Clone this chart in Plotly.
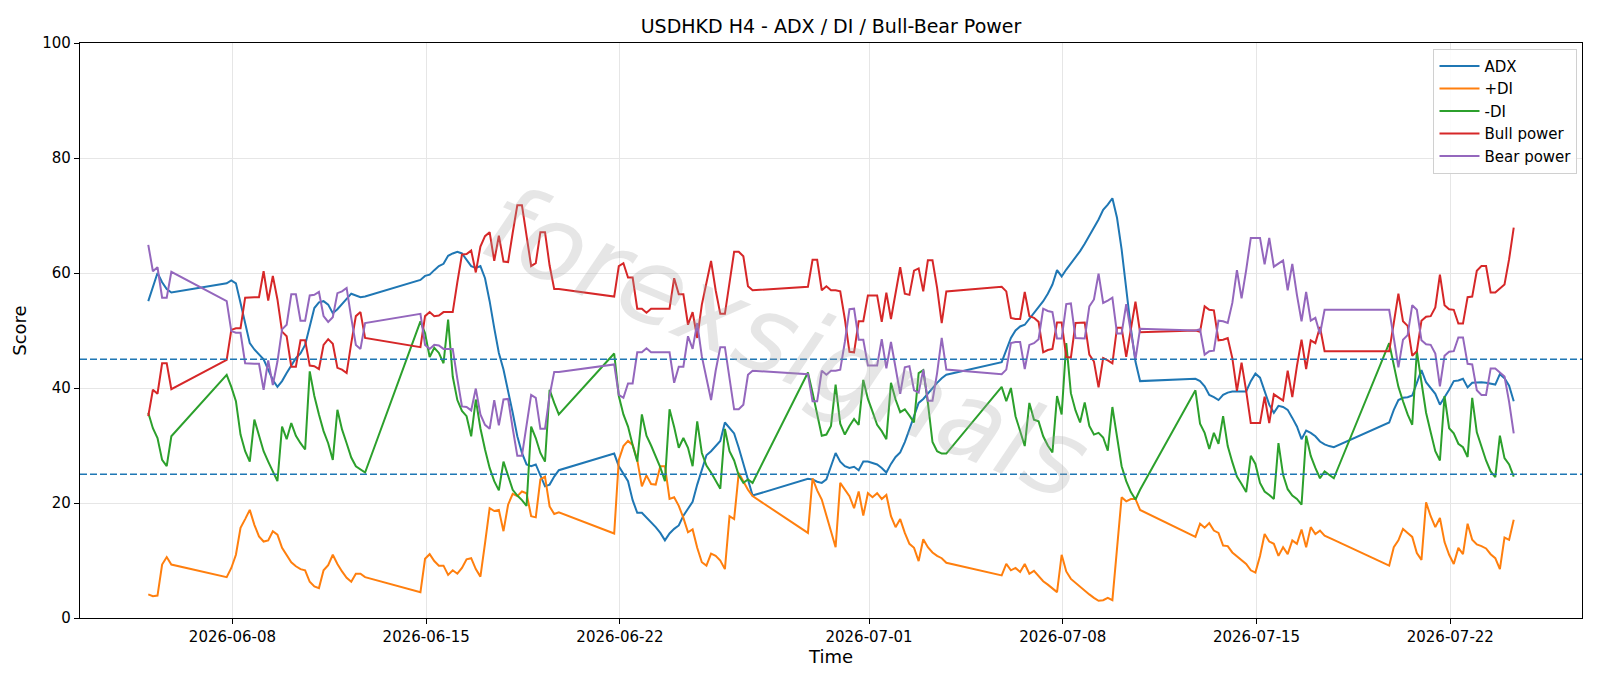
import pandas as pd
import plotly.graph_objects as go

# Trading sessions (start of each block of consecutive H4 bars, number of bars)
sessions = [("2026-06-04 23:00", 6), ("2026-06-07 19:00", 31), ("2026-06-14 19:00", 31),
            ("2026-06-21 19:00", 31), ("2026-06-28 19:00", 31), ("2026-07-05 19:00", 31),
            ("2026-07-12 19:00", 31), ("2026-07-19 19:00", 28)]

adx = [55.1, 57.5, 60.0, 58.4, 57.2, 56.6,
       58.2, 58.7, 58.2, 54.8, 51.0, 47.8, 46.7, 45.8, 45.0, 43.2, 41.4, 40.2, 41.2, 42.6, 43.8, 45.2, 46.0, 47.5, 50.7, 53.9, 54.9, 55.1, 54.5, 53.0, 53.7, 54.7, 55.5, 56.4, 56.1, 55.8, 55.9,
       58.8, 59.5, 59.7, 60.5, 61.2, 61.6, 63.0, 63.4, 63.7, 63.4, 62.4, 61.2, 60.9, 61.2, 59.1, 55.1, 50.4, 46.1, 43.2, 39.7, 35.7, 31.6, 28.7, 26.7, 26.4, 26.7, 24.9, 22.9, 23.2, 24.6, 25.7,
       28.6, 26.4, 25.0, 23.8, 20.5, 18.3, 18.3, 17.5, 16.6, 15.8, 14.8, 13.5, 14.7, 15.5, 16.1, 17.8, 19.0, 20.2, 23.2, 25.8, 28.3, 29.0, 30.0, 30.8, 34.0, 33.0, 32.1, 29.6, 26.7, 24.2, 21.3,
       24.2, 24.1, 23.7, 23.5, 24.1, 26.4, 28.7, 27.2, 26.4, 26.1, 26.3, 25.7, 27.2, 27.2, 27.0, 26.7, 26.1, 25.3, 26.8, 28.0, 28.8, 30.6, 32.8, 35.1, 37.4, 38.1, 39.1, 40.0, 40.9, 41.7, 42.3,
       44.5, 46.7, 48.7, 50.0, 50.7, 51.0, 52.0, 52.9, 53.9, 55.1, 56.4, 58.0, 60.5, 59.4, 60.6, 61.6, 62.8, 63.8, 65.1, 66.5, 67.8, 69.3, 71.0, 71.9, 73.0, 69.6, 64.1, 57.1, 50.4, 44.6, 41.2,
       41.6, 41.2, 40.3, 38.8, 38.4, 37.9, 38.8, 39.2, 39.4, 39.4, 39.4, 39.4, 41.2, 42.5, 41.8, 39.6, 37.1, 35.7, 36.9, 36.7, 36.2, 34.8, 33.3, 31.1, 32.6, 32.2, 31.6, 30.7, 30.2, 29.9, 29.7,
       34.0, 36.2, 37.9, 38.3, 38.4, 38.7, 40.9, 43.1, 41.0, 40.0, 39.0, 37.1, 38.3, 39.7, 41.2, 41.3, 41.6, 40.1, 40.9, 41.0, 41.0, 40.9, 40.7, 40.6, 42.4, 41.7, 40.4, 37.7]

plus_di = [4.1, 3.8, 3.9, 9.3, 10.6, 9.3,
           7.1, 8.7, 11.0, 15.7, 17.2, 18.8, 16.2, 14.2, 13.3, 13.5, 15.1, 14.5, 12.2, 11.0, 9.7, 9.0, 8.5, 8.3, 6.3, 5.5, 5.2, 8.3, 9.2, 11.0, 9.4, 8.1, 7.0, 6.3, 7.7, 7.7, 7.1,
           4.5, 10.3, 11.1, 9.9, 9.1, 9.1, 7.5, 8.3, 7.7, 8.7, 10.2, 10.4, 8.5, 7.2, 13.0, 19.1, 18.6, 18.8, 15.1, 19.7, 21.6, 21.2, 22.0, 21.7, 17.7, 17.5, 24.1, 24.6, 19.4, 18.1, 18.4,
           14.7, 27.5, 29.9, 30.8, 30.1, 27.5, 22.9, 24.8, 23.3, 23.2, 26.4, 26.4, 20.7, 21.0, 19.5, 17.4, 14.9, 15.4, 12.2, 9.7, 9.1, 11.2, 10.8, 10.0, 8.5, 17.7, 17.2, 25.2, 23.8, 22.3, 21.2,
           14.8, 24.3, 22.2, 20.6, 17.8, 14.8, 12.3, 23.5, 22.4, 21.2, 19.1, 22.0, 17.8, 21.7, 21.0, 21.7, 20.7, 21.4, 17.7, 15.8, 17.2, 14.8, 12.9, 12.2, 9.9, 13.7, 12.3, 11.4, 10.8, 10.4, 9.6,
           7.4, 9.4, 8.3, 8.7, 8.0, 9.4, 7.7, 8.2, 7.2, 6.4, 5.8, 5.2, 4.5, 11.0, 8.1, 6.8, 6.1, 5.5, 4.8, 4.1, 3.5, 3.0, 3.1, 3.5, 3.1, 12.0, 21.0, 20.3, 20.7, 20.7, 18.8,
           14.1, 16.4, 15.7, 16.5, 15.2, 14.8, 12.6, 12.5, 11.4, 10.7, 10.0, 9.4, 8.3, 7.9, 10.8, 14.6, 13.3, 12.9, 10.8, 12.3, 11.1, 13.5, 12.9, 15.4, 12.3, 15.8, 14.6, 15.2, 14.3, 13.9, 13.6,
           9.1, 12.3, 13.5, 15.5, 14.8, 14.1, 11.3, 10.1, 20.1, 17.7, 15.8, 17.4, 13.2, 11.0, 9.4, 12.2, 11.1, 16.4, 13.6, 12.8, 12.5, 12.1, 11.1, 10.4, 8.5, 14.0, 13.6, 17.1]

minus_di = [35.7, 33.0, 31.3, 27.5, 26.4, 31.6,
            42.3, 40.2, 37.7, 31.9, 29.0, 27.2, 34.5, 31.6, 29.0, 27.2, 25.5, 23.8, 33.3, 31.1, 33.9, 31.7, 30.4, 29.3, 42.9, 38.6, 35.4, 32.5, 30.4, 27.5, 36.2, 32.8, 30.4, 27.9, 26.4, 25.8, 25.3,
            51.6, 49.5, 45.4, 47.0, 46.1, 44.3, 51.9, 42.0, 37.9, 36.0, 35.1, 31.6, 38.0, 33.0, 29.3, 26.1, 23.8, 22.2, 27.2, 24.6, 22.3, 21.3, 20.5, 19.5, 33.3, 31.3, 28.7, 27.2, 39.7, 37.4, 35.4,
            46.0, 38.6, 35.4, 33.3, 30.1, 27.2, 35.4, 31.7, 30.0, 28.2, 26.2, 23.8, 36.3, 33.2, 29.6, 31.3, 29.6, 26.4, 34.2, 28.7, 26.5, 25.3, 23.9, 22.5, 32.9, 29.0, 27.4, 24.8, 23.5, 24.1, 23.5,
            42.7, 39.2, 35.4, 31.7, 31.9, 33.4, 40.6, 33.8, 31.9, 33.4, 34.6, 33.6, 41.4, 38.1, 35.9, 33.6, 32.5, 31.1, 40.9, 38.0, 35.8, 36.3, 35.2, 34.0, 42.6, 43.1, 37.4, 30.6, 29.0, 28.6, 28.6,
            40.2, 37.7, 40.0, 35.1, 32.5, 29.9, 37.4, 34.5, 34.2, 31.6, 30.0, 28.8, 38.6, 35.4, 47.8, 39.1, 36.1, 34.0, 37.5, 33.4, 31.9, 32.2, 31.4, 29.1, 36.7, 31.6, 26.4, 23.8, 21.9, 20.6, 22.3,
            39.6, 33.8, 32.2, 29.4, 32.2, 30.3, 35.1, 29.9, 27.1, 24.6, 23.3, 21.9, 28.2, 26.8, 23.5, 22.0, 21.4, 20.7, 30.4, 24.9, 22.4, 21.3, 20.7, 19.7, 31.7, 28.2, 26.1, 24.3, 25.5, 24.9, 24.3,
            47.8, 43.9, 40.2, 37.7, 35.4, 33.6, 46.4, 41.0, 35.7, 32.3, 29.0, 27.4, 38.6, 33.0, 32.1, 30.3, 29.7, 28.0, 38.3, 32.3, 29.7, 27.4, 25.5, 24.5, 31.7, 27.8, 26.7, 24.6]

bull_power = [35.1, 39.7, 39.0, 44.3, 44.3, 39.8,
              44.9, 50.1, 50.4, 50.4, 55.7, 55.8, 55.8, 55.8, 60.3, 55.2, 59.5, 55.4, 49.8, 49.0, 43.7, 43.7, 48.3, 48.3, 43.9, 43.8, 43.3, 47.5, 48.5, 47.7, 43.5, 43.2, 42.6, 47.8, 52.5, 53.2, 48.7,
              47.1, 52.5, 53.2, 52.5, 52.6, 53.2, 53.2, 53.2, 58.4, 63.2, 63.3, 63.9, 60.1, 64.6, 66.4, 67.1, 62.1, 66.5, 62.0, 61.9, 67.0, 71.8, 71.8, 66.2, 61.2, 61.7, 67.1, 67.1, 61.3, 57.2, 57.2,
              55.9, 61.2, 61.7, 59.2, 59.2, 53.8, 53.8, 53.1, 53.8, 53.8, 53.8, 53.8, 53.8, 59.1, 56.3, 56.3, 51.0, 53.2, 48.7, 54.5, 58.5, 62.1, 57.0, 52.9, 52.9, 58.3, 63.7, 63.7, 62.9, 57.7, 57.0,
              57.6, 62.3, 62.3, 57.0, 57.7, 57.0, 57.0, 56.8, 52.0, 46.3, 46.2, 51.6, 51.6, 56.1, 56.1, 56.1, 51.5, 56.6, 52.0, 56.8, 61.0, 56.4, 56.2, 60.4, 60.8, 56.8, 62.2, 62.2, 57.4, 51.3, 56.8,
              57.6, 56.8, 52.2, 52.0, 52.0, 56.7, 52.5, 52.2, 51.5, 46.2, 46.6, 46.8, 51.4, 51.4, 45.4, 45.3, 51.3, 51.4, 51.4, 45.8, 44.6, 40.1, 45.2, 44.8, 44.3, 50.5, 50.5, 45.4, 50.5, 55.0, 49.7,
              50.0, 49.8, 54.2, 53.6, 53.5, 48.3, 48.4, 48.7, 45.2, 39.5, 44.4, 39.5, 33.9, 33.9, 33.9, 38.5, 33.9, 38.9, 38.3, 37.8, 43.0, 38.4, 43.8, 48.4, 43.3, 48.3, 47.8, 50.6, 46.4, 46.4, 46.4,
              46.4, 51.3, 56.4, 51.6, 50.8, 45.6, 46.4, 51.7, 52.4, 52.5, 54.0, 59.7, 54.4, 53.7, 53.6, 51.2, 51.2, 55.8, 55.9, 60.4, 61.2, 61.2, 56.6, 56.6, 57.3, 58.0, 62.4, 67.9]

bear_power = [64.9, 60.3, 61.0, 55.7, 55.7, 60.2,
              55.1, 49.9, 49.6, 49.6, 44.3, 44.2, 44.2, 44.2, 39.7, 44.8, 40.5, 44.6, 50.2, 51.0, 56.3, 56.3, 51.7, 51.7, 56.1, 56.2, 56.7, 52.5, 51.5, 52.3, 56.5, 56.8, 57.4, 52.2, 47.5, 46.8, 51.3,
              52.9, 47.5, 46.8, 47.5, 47.4, 46.8, 46.8, 46.8, 41.6, 36.8, 36.7, 36.1, 39.9, 35.4, 33.6, 32.9, 37.9, 33.5, 38.0, 38.1, 33.0, 28.2, 28.2, 33.8, 38.8, 38.3, 32.9, 32.9, 38.7, 42.8, 42.8,
              44.1, 38.8, 38.3, 40.8, 40.8, 46.2, 46.2, 46.9, 46.2, 46.2, 46.2, 46.2, 46.2, 40.9, 43.7, 43.7, 49.0, 46.8, 51.3, 45.5, 41.5, 37.9, 43.0, 47.1, 47.1, 41.7, 36.3, 36.3, 37.1, 42.3, 43.0,
              42.4, 37.7, 37.7, 43.0, 42.3, 43.0, 43.0, 43.2, 48.0, 53.7, 53.8, 48.4, 48.4, 43.9, 43.9, 43.9, 48.5, 43.4, 48.0, 43.2, 39.0, 43.6, 43.8, 39.6, 39.2, 43.2, 37.8, 37.8, 42.6, 48.7, 43.2,
              42.4, 43.2, 47.8, 48.0, 48.0, 43.3, 47.5, 47.8, 48.5, 53.8, 53.4, 53.2, 48.6, 48.6, 54.6, 54.7, 48.7, 48.6, 48.6, 54.2, 55.4, 59.9, 54.8, 55.2, 55.7, 49.5, 49.5, 54.6, 49.5, 45.0, 50.3,
              50.0, 50.2, 45.8, 46.4, 46.5, 51.7, 51.6, 51.3, 54.8, 60.5, 55.6, 60.5, 66.1, 66.1, 66.1, 61.5, 66.1, 61.1, 61.7, 62.2, 57.0, 61.6, 56.2, 51.6, 56.7, 51.7, 52.2, 49.4, 53.6, 53.6, 53.6,
              53.6, 48.7, 43.6, 48.4, 49.2, 54.4, 53.6, 48.3, 47.6, 47.5, 46.0, 40.3, 45.6, 46.3, 46.4, 48.8, 48.8, 44.2, 44.1, 39.6, 38.8, 38.8, 43.4, 43.4, 42.7, 42.0, 37.6, 32.1]

tick_dates = ["2026-06-08", "2026-06-15", "2026-06-22", "2026-07-01", "2026-07-08", "2026-07-15", "2026-07-22"]
y_ticks = [0, 20, 40, 60, 80, 100]
levels = [25, 45]

times = []
for start, n in sessions:
    times.extend(pd.date_range(start, periods=n, freq="4h"))

series = [("ADX", adx, "#1f77b4"), ("+DI", plus_di, "#ff7f0e"), ("-DI", minus_di, "#2ca02c"),
          ("Bull power", bull_power, "#d62728"), ("Bear power", bear_power, "#9467bd")]

fig = go.Figure()
for name, vals, col in series:
    fig.add_trace(go.Scatter(x=times, y=vals, mode="lines", name=name,
                             line=dict(color=col, width=2.0)))

for lv in levels:
    fig.add_shape(type="line", xref="paper", yref="y", x0=0, x1=1, y0=lv, y1=lv,
                  line=dict(color="#1f77b4", width=1.5, dash="7px,3px"), layer="above")

t0, t1 = times[0], times[-1]
pad = (t1 - t0) * 0.05

font = "DejaVu Sans, Arial, sans-serif"
fig.add_annotation(text="<i>forexsignals</i>", xref="paper", yref="paper", x=0.47, y=0.48,
                   showarrow=False, textangle=23,
                   font=dict(family=font, size=106, color="rgba(165,165,165,0.28)"))

fig.update_layout(
    width=1600, height=686,
    margin=dict(l=80, r=18, t=43, b=68),
    paper_bgcolor="white", plot_bgcolor="white",
    font=dict(family=font, size=15, color="black"),
    title=dict(text="USDHKD H4 - ADX / DI / Bull-Bear Power", x=0.5, xref="paper", xanchor="center",
               y=1 - 26 / 686, yanchor="middle", font=dict(size=19)),
    legend=dict(x=0.997, y=0.99, xanchor="right", yanchor="top", bgcolor="rgba(255,255,255,0.85)",
                bordercolor="#d0d0d0", borderwidth=1, font=dict(size=15), itemwidth=40,
                tracegroupgap=0),
    showlegend=True,
)
fig.update_xaxes(range=[t0 - pad, t1 + pad], tickvals=pd.to_datetime(tick_dates), ticktext=tick_dates,
                 showgrid=True, gridcolor="#e6e6e6", gridwidth=1, zeroline=False,
                 showline=True, linecolor="black", linewidth=1.2, mirror=True,
                 ticks="outside", ticklen=5, tickwidth=1, tickcolor="black",
                 title=dict(text="Time", standoff=5), tickfont=dict(size=15))
fig.update_yaxes(range=[0, 100], tickvals=y_ticks, showgrid=True, gridcolor="#e6e6e6", gridwidth=1,
                 zeroline=False, showline=True, linecolor="black", linewidth=1.2, mirror=True,
                 ticks="outside", ticklen=5, tickwidth=1, tickcolor="black",
                 title=dict(text="Score", standoff=10), tickfont=dict(size=15))

fig.write_html("out.html")
